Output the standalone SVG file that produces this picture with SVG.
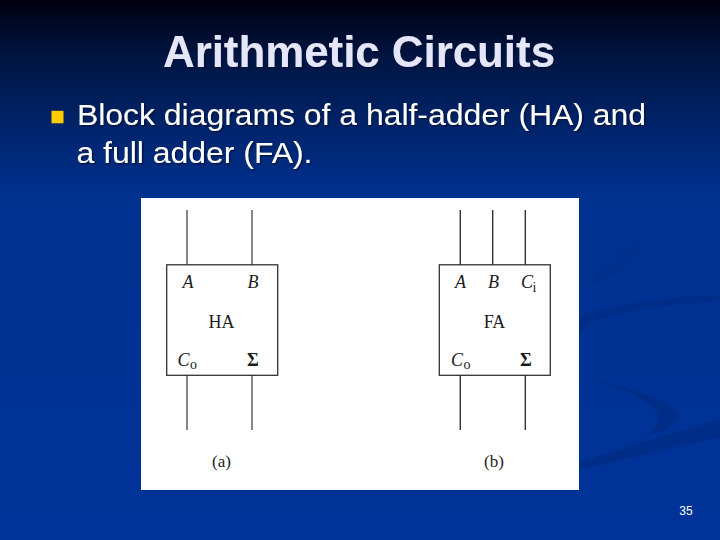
<svg xmlns="http://www.w3.org/2000/svg" width="720" height="540" viewBox="0 0 720 540">
<style>
.t{font-family:"Liberation Sans",Arial,sans-serif}
.s{font-family:"Liberation Serif","Times New Roman",serif;fill:#1c1c1c}
.i{font-style:italic;font-size:18px}
.n{font-size:18px}
.sub{font-size:14px}
.cap{font-size:17px;text-anchor:middle}
.sig{font-size:18px;font-weight:700;text-anchor:middle}
.box{fill:none;stroke:#333;stroke-width:1.3}
.w{stroke:#555;stroke-width:1.4;fill:none}
.sw{fill:#002d88}
</style>
<defs>
<linearGradient id="bg" x1="0" y1="0" x2="0" y2="1">
<stop offset="0" stop-color="#000010"/>
<stop offset="0.1" stop-color="#001440"/>
<stop offset="0.22" stop-color="#002266"/>
<stop offset="0.36" stop-color="#00318f"/>
<stop offset="1" stop-color="#003399"/>
</linearGradient>
<filter id="shadow" x="-5%" y="-20%" width="110%" height="140%">
<feDropShadow dx="1.500" dy="1.500" stdDeviation="0.600" flood-color="#001030" flood-opacity="0.700"/>
</filter>
</defs>
<rect width="720" height="540" fill="url(#bg)"/>
<path class="sw" d="M579 316C620 302 680 296 720 295V301C680 303 625 310 590 322L579 335Z"/>
<path class="sw" d="M579 462C630 447 680 430 720 419V437C670 447 625 460 579 470Z"/>
<path class="sw" d="M590 379C625 385 668 400 677 412C679 423 665 432 645 436C660 425 664 415 650 405C635 393 610 384 590 379Z"/>
<path d="M590 275C615 262 635 245 642 235C640 255 625 272 590 285Z" fill="#002f8e"/>
<g id="title" filter="url(#shadow)">
<text class="t" x="359" y="67" text-anchor="middle" font-size="44" font-weight="700" fill="#e6e6fa" textLength="392" lengthAdjust="spacingAndGlyphs">Arithmetic Circuits</text>
</g>
<g id="bullet">
<rect x="51.500" y="110.800" width="12" height="12.500" fill="#ffcc00"/>
</g>
<g id="body" class="t" fill="#fff" filter="url(#shadow)">
<text x="77" y="124.500" font-size="29.500" textLength="569" lengthAdjust="spacingAndGlyphs">Block diagrams of a half-adder (HA) and</text>
<text x="76.500" y="162.500" font-size="29.500" textLength="236" lengthAdjust="spacingAndGlyphs">a full adder (FA).</text>
</g>
<rect id="panel" x="141" y="198" width="438" height="292" fill="#fff"/>
<g id="connectors">
<path class="w" d="M187 210V265M252 210V265M187 375V430M252 375V430"/>
<path class="w" style="stroke:#333" d="M460.300 210V265M492.700 210V265M525.300 210V265M460.300 375V430M525.300 375V430"/>
</g>
<g id="HA">
<rect class="box" x="166.700" y="264.800" width="111" height="110.500"/>
<text class="s i" x="182.500" y="288">A</text>
<text class="s i" x="247.500" y="288">B</text>
<text class="s n" x="221.500" y="327.500" text-anchor="middle">HA</text>
<text class="s i" x="177.500" y="365.500">C</text><text class="s sub" x="190" y="369">o</text>
<text class="s sig" x="253" y="365.500">Σ</text>
</g>
<g id="FA">
<rect class="box" x="439.300" y="264.800" width="111" height="110.500"/>
<text class="s i" x="455" y="288">A</text>
<text class="s i" x="488" y="288">B</text>
<text class="s i" x="521" y="288">C</text><text class="s sub" x="532.500" y="292">i</text>
<text class="s n" x="494.500" y="327.500" text-anchor="middle">FA</text>
<text class="s i" x="451" y="365.500">C</text><text class="s sub" x="463.500" y="369">o</text>
<text class="s sig" x="526" y="365.500">Σ</text>
</g>
<text id="cap-a" class="s cap" x="221.500" y="467">(a)</text>
<text id="cap-b" class="s cap" x="494" y="467">(b)</text>
<text id="page" class="t" x="686" y="515" font-size="12" fill="#fff" text-anchor="middle">35</text>
</svg>
